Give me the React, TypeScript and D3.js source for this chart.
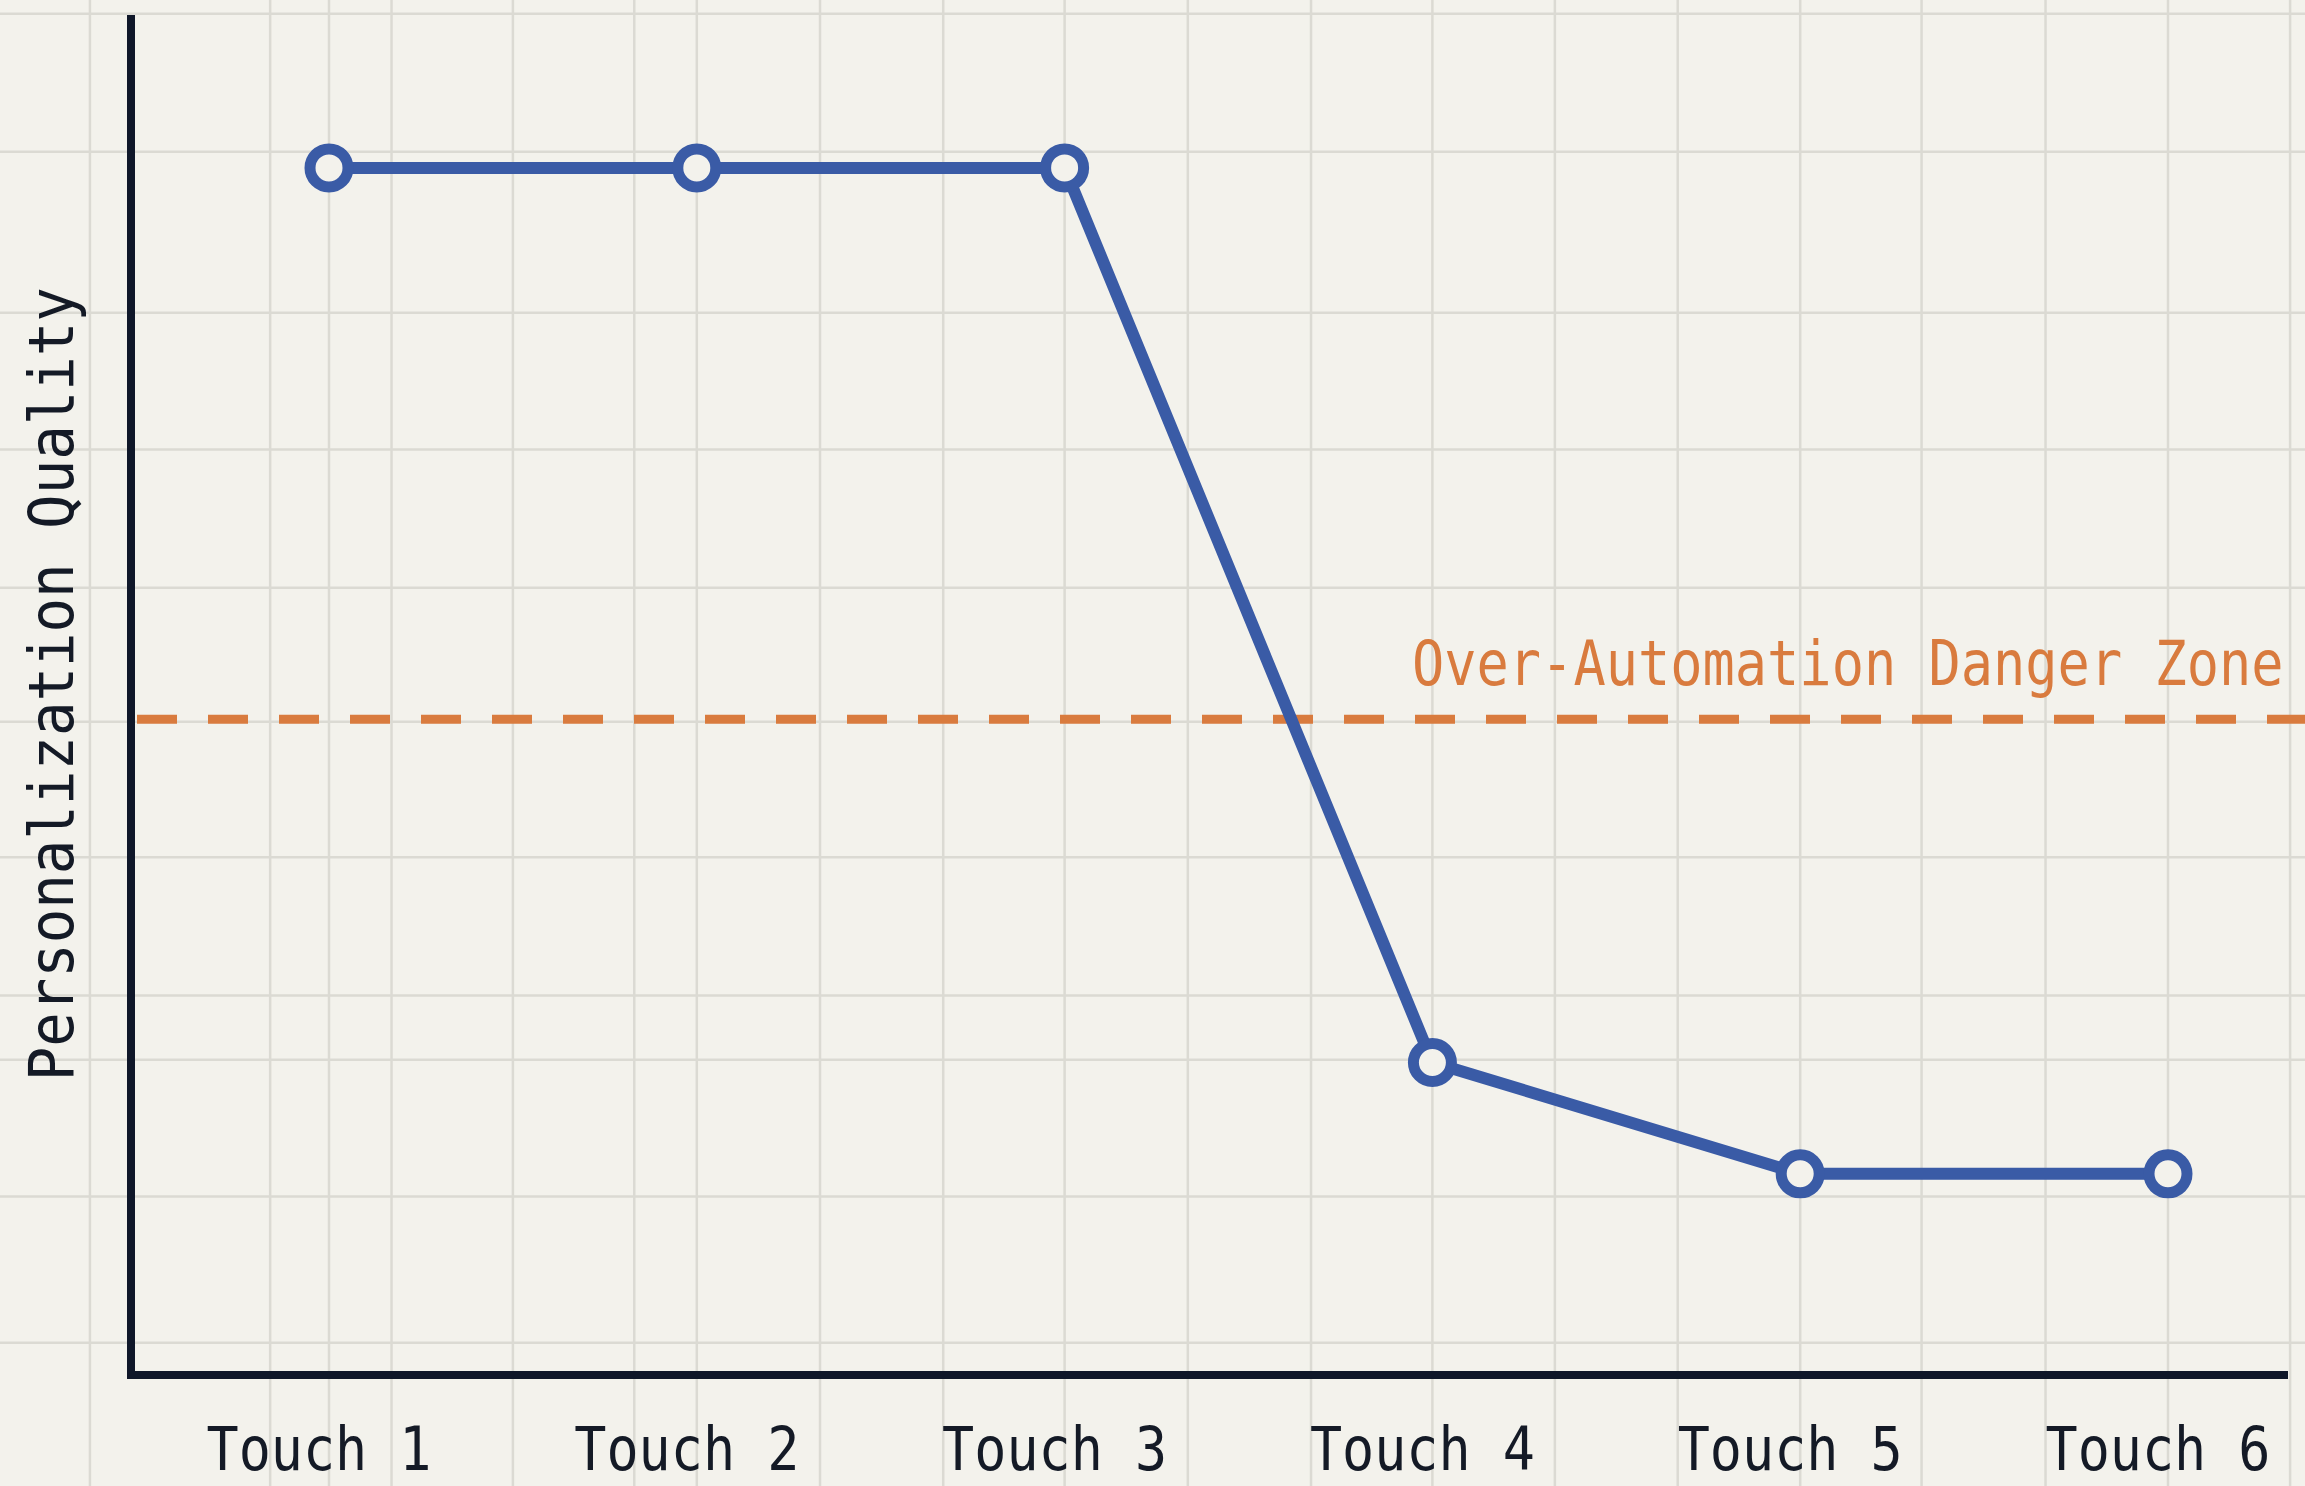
import React, { useEffect, useRef } from "react";
import * as d3 from "d3";

// chart data
const categories = ["Touch 1", "Touch 2", "Touch 3", "Touch 4", "Touch 5", "Touch 6"];
const quality = [90, 90, 90, 23.3, 15, 15];
const dangerThreshold = 48.9;
const dangerLabel = "Over-Automation Danger Zone";
const yAxisLabel = "Personalization Quality";

// background grid, in touch-index units and quality units
const gridX = [-0.65, -0.16, 0, 0.17, 0.5, 0.83, 1, 1.335, 1.67, 2, 2.335, 2.67, 3, 3.333, 3.667, 4, 4.33, 4.667, 5, 5.332];
const gridY = [101.5, 91.2, 79.2, 69.0, 58.7, 48.7, 38.6, 28.3, 23.5, 13.3, 2.4];

const W = 2305;
const H = 1486;
const MONO = "'DejaVu Sans Mono', monospace";

const App = () => {
  const svgRef = useRef(null);

  useEffect(() => {
    const svg = d3.select(svgRef.current);
    svg.selectAll("*").remove();

    const x = d3.scalePoint().domain(categories).range([329, 2168]);
    const xIdx = d3.scaleLinear().domain([0, categories.length - 1]).range([329, 2168]);
    const y = d3.scaleLinear().domain([0, 101.4]).range([1375, 15]);

    const axisLeft = 131;
    const axisRight = 2288;

    svg.append("rect").attr("width", W).attr("height", H).attr("fill", "#f3f2ec");

    // grid
    const grid = svg.append("g").attr("stroke", "#dbdad3").attr("stroke-width", 2.5);
    grid
      .selectAll(".gx")
      .data(gridX)
      .join("line")
      .attr("x1", (d) => xIdx(d))
      .attr("x2", (d) => xIdx(d))
      .attr("y1", 0)
      .attr("y2", H);
    grid
      .selectAll(".gy")
      .data(gridY)
      .join("line")
      .attr("y1", (d) => y(d))
      .attr("y2", (d) => y(d))
      .attr("x1", 0)
      .attr("x2", W);

    // danger zone threshold
    svg
      .append("line")
      .attr("x1", axisLeft + 6)
      .attr("x2", W)
      .attr("y1", y(dangerThreshold))
      .attr("y2", y(dangerThreshold))
      .attr("stroke", "#d97b3e")
      .attr("stroke-width", 9)
      .attr("stroke-dasharray", "40,31");

    // condensed mono look: squeeze glyphs horizontally
    svg
      .append("text")
      .attr("transform", `translate(1412, ${y(dangerThreshold) - 34}) scale(0.865, 1)`)
      .attr("font-family", MONO)
      .attr("font-size", 62)
      .attr("fill", "#d97b3e")
      .text(dangerLabel);

    // axes
    const axisPath = d3.path();
    axisPath.moveTo(axisLeft, 15);
    axisPath.lineTo(axisLeft, y(0));
    axisPath.lineTo(axisRight, y(0));
    svg
      .append("path")
      .attr("d", axisPath.toString())
      .attr("fill", "none")
      .attr("stroke", "#0f1729")
      .attr("stroke-width", 8);

    svg
      .selectAll(".xlabel")
      .data(categories)
      .join("text")
      .attr("transform", (d) => `translate(${x(d) - 10}, 1470) scale(0.89, 1)`)
      .attr("text-anchor", "middle")
      .attr("font-family", MONO)
      .attr("font-size", 60)
      .attr("fill", "#141a26")
      .text((d) => d);

    svg
      .append("text")
      .attr("transform", `translate(73, ${y(51.5)}) rotate(-90) scale(0.925, 1)`)
      .attr("text-anchor", "middle")
      .attr("font-family", MONO)
      .attr("font-size", 62)
      .attr("fill", "#141a26")
      .text(yAxisLabel);

    // series line
    const line = d3
      .line()
      .x((d, i) => x(categories[i]))
      .y((d) => y(d));
    svg
      .append("path")
      .datum(quality)
      .attr("d", line)
      .attr("fill", "none")
      .attr("stroke", "#3a5ba6")
      .attr("stroke-width", 12)
      .attr("stroke-linejoin", "round");

    svg
      .selectAll(".pt")
      .data(quality)
      .join("circle")
      .attr("cx", (d, i) => x(categories[i]))
      .attr("cy", (d) => y(d))
      .attr("r", 19)
      .attr("fill", "#f3f2ec")
      .attr("stroke", "#3a5ba6")
      .attr("stroke-width", 11);
  }, []);

  return (
    <svg
      ref={svgRef}
      width={W}
      height={H}
      style={{ position: "fixed", left: 0, top: 0, display: "block" }}
    />
  );
};

export default App;
